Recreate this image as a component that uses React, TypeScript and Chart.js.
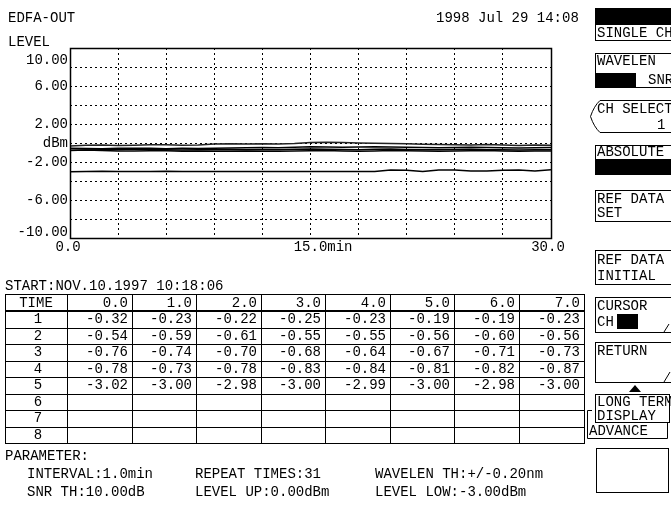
import React, { useEffect, useRef } from 'react';
import { Chart, registerables } from 'chart.js';

Chart.register(...registerables);

// ---------- data ----------
const TIME_MIN = [0, 1, 2, 3, 4, 5, 6, 7, 8, 9, 10, 11, 12, 13, 14, 15, 16, 17, 18, 19, 20, 21, 22, 23, 24, 25, 26, 27, 28, 29, 30];
const CH1 = [-0.32, -0.23, -0.22, -0.25, -0.23, -0.19, -0.19, -0.23, -0.2, -0.1, -0.08, -0.1, -0.08, -0.1, -0.05, 0.05, 0.08, 0.05, 0.0, -0.02, -0.05, -0.08, -0.12, -0.15, -0.18, -0.2, -0.15, -0.2, -0.25, -0.22, -0.25];
const CH2 = [-0.54, -0.59, -0.61, -0.55, -0.55, -0.56, -0.6, -0.56, -0.58, -0.55, -0.52, -0.5, -0.48, -0.5, -0.45, -0.4, -0.42, -0.45, -0.43, -0.4, -0.42, -0.45, -0.48, -0.5, -0.47, -0.45, -0.48, -0.5, -0.52, -0.5, -0.48];
const CH3 = [-0.76, -0.74, -0.7, -0.68, -0.64, -0.67, -0.71, -0.73, -0.72, -0.7, -0.68, -0.7, -0.72, -0.7, -0.66, -0.62, -0.65, -0.68, -0.7, -0.66, -0.64, -0.68, -0.7, -0.72, -0.68, -0.66, -0.7, -0.72, -0.74, -0.7, -0.7];
const CH4 = [-0.78, -0.73, -0.78, -0.83, -0.84, -0.81, -0.82, -0.87, -0.85, -0.88, -0.86, -0.84, -0.86, -0.88, -0.85, -0.82, -0.8, -0.84, -0.86, -0.83, -0.8, -0.82, -0.85, -0.87, -0.84, -0.82, -0.8, -0.84, -0.86, -0.85, -0.83];
const CH5 = [-3.02, -3.0, -2.98, -3.0, -2.99, -3.0, -2.98, -3.0, -3.0, -3.01, -3.0, -2.99, -3.0, -3.0, -2.99, -3.0, -3.01, -3.0, -3.0, -2.99, -2.85, -2.86, -3.0, -2.85, -2.84, -2.95, -2.96, -2.86, -2.85, -2.96, -2.82];
const SERIES = [CH1, CH2, CH3, CH4, CH5];
const SERIES_COLORS = ['#222', '#000', '#000', '#000', '#000'];

const Y_TICK_VALUES = [10, 6, 2, 0, -2, -6, -10];
const Y_TICK_TEXT = ['10.00', '6.00', '2.00', 'dBm', '-2.00', '-6.00', '-10.00'];
const X_TICK_VALUES = [0, 15, 30];
const X_TICK_TEXT = ['0.0', '15.0', '30.0'];
const X_UNIT = 'min';

const TABLE_COLS = ['0.0', '1.0', '2.0', '3.0', '4.0', '5.0', '6.0', '7.0'];
const TABLE_ROWS = ['1', '2', '3', '4', '5', '6', '7', '8'];

const FONT = '"Liberation Mono", "DejaVu Sans Mono", monospace';

// ---------- layout constants ----------
const COL_X = [5, 67, 132, 196, 261, 325, 390, 454, 519, 584];
const TABLE_TOP = 294;
const HEADER_BOTTOM = 311;
const ROW_H = 16.5;

const osaPlugin = {
  id: 'osaLabels',
  afterDraw(chart: any) {
    const { ctx, chartArea, scales } = chart;
    const { left, right, top, bottom } = chartArea;
    const xs = scales.x;
    const ys = scales.y;
    ctx.save();
    ctx.setLineDash([]);
    ctx.strokeStyle = '#000';
    ctx.lineWidth = 1.5;
    ctx.strokeRect(Math.round(left) + 0.5, Math.round(top) + 0.5, Math.round(right - left), Math.round(bottom - top));
    ctx.fillStyle = '#000';
    ctx.font = '14px ' + FONT;
    ctx.textAlign = 'right';
    ctx.textBaseline = 'middle';
    Y_TICK_VALUES.forEach((v, i) => {
      let py = ys.getPixelForValue(v);
      py = Math.min(Math.max(py, top + 12), bottom - 6);
      ctx.fillText(Y_TICK_TEXT[i], left - 2, py);
    });
    ctx.textAlign = 'center';
    X_TICK_VALUES.forEach((v, i) => {
      const px = xs.getPixelForValue(v);
      const txt = X_TICK_TEXT[i];
      if (i === 1) {
        const w = ctx.measureText(txt).width;
        ctx.textAlign = 'left';
        ctx.fillText(txt + X_UNIT, px - w / 2, bottom + 9);
        ctx.textAlign = 'center';
      } else {
        ctx.fillText(txt, px - (i === 2 ? 3 : 2), bottom + 9);
      }
    });
    ctx.restore();
  },
};

function ChartCanvas() {
  const ref = useRef<HTMLCanvasElement | null>(null);
  useEffect(() => {
    if (!ref.current) return;
    const gridOpts = { color: '#000', lineWidth: 1, drawTicks: false };
    const chart = new Chart(ref.current, {
      type: 'line',
      data: {
        datasets: SERIES.map((s, k) => ({
          label: 'CH' + (k + 1),
          data: TIME_MIN.map((t, i) => ({ x: t, y: s[i] })),
          borderColor: SERIES_COLORS[k],
          borderWidth: 1.5,
          pointRadius: 0,
          tension: 0,
          fill: false,
        })),
      },
      options: {
        animation: false,
        responsive: false,
        maintainAspectRatio: false,
        layout: { padding: { top: 48, right: 29, left: 0, bottom: 0 } },
        plugins: { legend: { display: false }, tooltip: { enabled: false } },
        scales: {
          x: {
            type: 'linear',
            min: 0,
            max: 30,
            ticks: { stepSize: 3, display: false },
            grid: gridOpts,
            border: { display: false, dash: [2, 3] },
            afterFit: (s: any) => { s.height = 22; },
          },
          y: {
            type: 'linear',
            min: -10,
            max: 10,
            ticks: { stepSize: 2, display: false },
            grid: gridOpts,
            border: { display: false, dash: [2, 3] },
            afterFit: (s: any) => { s.width = 70; },
          },
        },
      } as any,
      plugins: [osaPlugin],
    });
    return () => chart.destroy();
  }, []);
  return <canvas ref={ref} width={580} height={260} style={{ position: 'absolute', left: 0, top: 0, width: 580, height: 260 }} />;
}

function T(props: { x: number; y: number; children: any; anchor?: string }) {
  return (
    <text x={props.x} y={props.y} textAnchor={(props.anchor || 'start') as any} dominantBaseline="central" fontFamily={FONT} fontSize={14} fill="#000">
      {props.children}
    </text>
  );
}

function Overlay() {
  const rowTop = (i: number) => HEADER_BOTTOM + ROW_H * i;
  const tableBottom = rowTop(TABLE_ROWS.length);
  const hLines: any[] = [];
  hLines.push(<line key="ht" x1={COL_X[0]} x2={COL_X[9]} y1={TABLE_TOP + 0.5} y2={TABLE_TOP + 0.5} stroke="#000" strokeWidth={1} />);
  hLines.push(<line key="hh" x1={COL_X[0]} x2={COL_X[9]} y1={HEADER_BOTTOM} y2={HEADER_BOTTOM} stroke="#000" strokeWidth={2} />);
  for (let i = 1; i <= TABLE_ROWS.length; i++) {
    hLines.push(<line key={'h' + i} x1={COL_X[0]} x2={COL_X[9]} y1={Math.round(rowTop(i)) + 0.5} y2={Math.round(rowTop(i)) + 0.5} stroke="#000" strokeWidth={1} />);
  }
  const vLines = COL_X.map((x, j) => (
    <line key={'v' + j} x1={x + 0.5} x2={x + 0.5} y1={TABLE_TOP} y2={Math.round(tableBottom) + 1} stroke="#000" strokeWidth={1} />
  ));
  const cells: any[] = [];
  cells.push(<T key="time" x={(COL_X[0] + COL_X[1]) / 2} y={(TABLE_TOP + HEADER_BOTTOM) / 2} anchor="middle">TIME</T>);
  TABLE_COLS.forEach((c, j) => {
    cells.push(<T key={'c' + j} x={COL_X[j + 2] - 4} y={(TABLE_TOP + HEADER_BOTTOM) / 2} anchor="end">{c}</T>);
  });
  TABLE_ROWS.forEach((r, i) => {
    const cy = rowTop(i) + ROW_H / 2;
    cells.push(<T key={'r' + i} x={(COL_X[0] + COL_X[1]) / 2 + 2} y={cy} anchor="middle">{r}</T>);
    const s = SERIES[i];
    if (s) {
      TABLE_COLS.forEach((_, j) => {
        cells.push(<T key={'v' + i + '_' + j} x={COL_X[j + 2] - 4} y={cy} anchor="end">{s[j].toFixed(2)}</T>);
      });
    }
  });

  return (
    <svg width={671} height={513} style={{ position: 'absolute', left: 0, top: 0 }}>
      <T x={8} y={18}>EDFA-OUT</T>
      <T x={8} y={42}>LEVEL</T>
      <T x={436} y={18}>1998 Jul 29 14:08</T>

      <T x={5} y={286}>START:NOV.10.1997 10:18:06</T>
      {hLines}
      {vLines}
      {cells}

      <T x={5} y={456}>PARAMETER:</T>
      <T x={27} y={474}>INTERVAL:1.0min</T>
      <T x={195} y={474}>REPEAT TIMES:31</T>
      <T x={375} y={474}>WAVELEN TH:+/-0.20nm</T>
      <T x={27} y={492}>SNR TH:10.00dB</T>
      <T x={195} y={492}>LEVEL UP:0.00dBm</T>
      <T x={375} y={492}>LEVEL LOW:-3.00dBm</T>

      {/* side soft-key panel */}
      <g fill="none" stroke="#000" strokeWidth={1}>
        <rect x={595.5} y={8.5} width={80} height={32} />
        <rect x={595.5} y={53.5} width={80} height={34} />
        <path d="M 676 100.5 L 600 100.5 Q 594 106 590.5 116.5 Q 594 127 600 132.5 L 676 132.5" />
        <rect x={595.5} y={145.5} width={80} height={29} />
        <rect x={595.5} y={190.5} width={80} height={31} />
        <rect x={595.5} y={250.5} width={80} height={34} />
        <rect x={595.5} y={297.5} width={80} height={35} />
        <rect x={595.5} y={342.5} width={80} height={40} />
        <rect x={595.5} y={394.5} width={74} height={28} />
        <path d="M 592 410.5 L 587.5 410.5 L 587.5 438.5 L 667.5 438.5 L 667.5 422.5" />
        <rect x={596.5} y={448.5} width={72} height={44} />
        <line x1={664} y1={332} x2={669} y2={324} />
        <line x1={664} y1={382} x2={670} y2={372} />
      </g>
      <rect x={596} y={9} width={80} height={16} fill="#000" />
      <rect x={596} y={73} width={40} height={14} fill="#000" />
      <rect x={596} y={159} width={80} height={15} fill="#000" />
      <rect x={617} y={314} width={21} height={15} fill="#000" />
      <polygon points="629,392 641,392 635,385" fill="#000" />

      <T x={597} y={33}>SINGLE CH</T>
      <T x={597} y={61}>WAVELEN</T>
      <T x={648} y={80}>SNR</T>
      <T x={597} y={109}>CH SELECT</T>
      <T x={657} y={125}>1</T>
      <T x={597} y={152}>ABSOLUTE</T>
      <T x={597} y={199}>REF DATA</T>
      <T x={597} y={213}>SET</T>
      <T x={597} y={260}>REF DATA</T>
      <T x={597} y={276}>INITIAL</T>
      <T x={597} y={306}>CURSOR</T>
      <T x={597} y={322}>CH</T>
      <T x={597} y={351}>RETURN</T>
      <T x={597} y={402}>LONG TERM</T>
      <T x={597} y={416}>DISPLAY</T>
      <T x={589} y={431}>ADVANCE</T>
    </svg>
  );
}

export default function App() {
  return (
    <div style={{ position: 'absolute', left: 0, top: 0, width: 671, height: 513, overflow: 'hidden', background: '#fff' }}>
      <ChartCanvas />
      <Overlay />
    </div>
  );
}
